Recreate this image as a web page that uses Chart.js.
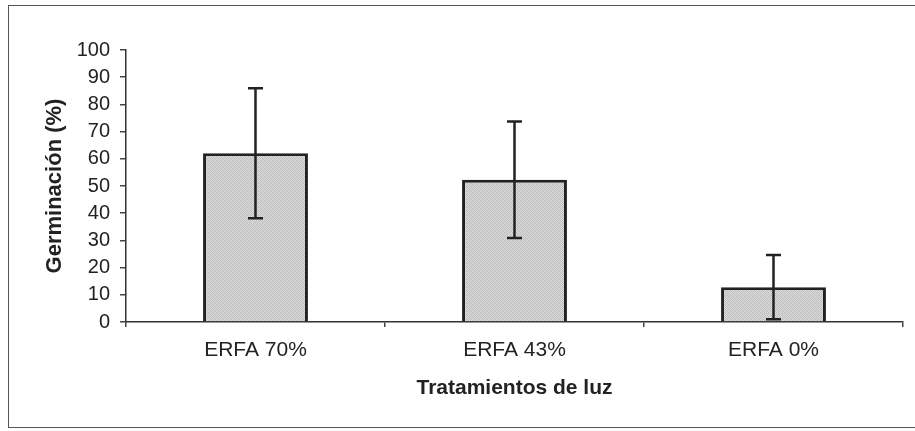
<!DOCTYPE html>
<html>
<head>
<meta charset="utf-8">
<script src="https://cdn.jsdelivr.net/npm/chart.js@4"></script>
<style>
  html, body { margin: 0; padding: 0; background: #fff; overflow: hidden; width: 915px; height: 431px; }
  #frame { position: absolute; left: 8px; top: 5px; width: 940px; height: 423px; border: 1.5px solid #555; box-sizing: border-box; }
  #wrap { position: absolute; left: 0; top: 0; width: 915px; height: 431px; }
</style>
</head>
<body>
<div id="frame"></div>
<div id="wrap"><canvas id="c"></canvas></div>
<script>
// Light treatments and mean germination (%) with error (±)
const categories = ['ERFA 70%', 'ERFA 43%', 'ERFA 0%'];
const germination = [62, 52.3, 12.8];
const germinationError = [23.9, 21.4, 11.8];
const yMin = 0;
const yMax = 100;
const yStep = 10;

const FONT = "'Liberation Sans', Arial, Helvetica, sans-serif";
const INK = '#222';

// fine halftone-like grey fill for the bars
function halftone() {
  const p = document.createElement('canvas');
  p.width = 4; p.height = 4;
  const g = p.getContext('2d');
  const shades = [
    ['#bcbcbc', '#d9d9d9', '#c4c4c4', '#dddddd'],
    ['#d6d6d6', '#c1c1c1', '#dadada', '#c3c3c3'],
    ['#c6c6c6', '#dbdbdb', '#bbbbbb', '#d7d7d7'],
    ['#dcdcdc', '#c2c2c2', '#d6d6d6', '#bfbfbf']
  ];
  for (let r = 0; r < 4; r++) for (let c = 0; c < 4; c++) {
    g.fillStyle = shades[r][c];
    g.fillRect(c, r, 1, 1);
  }
  return g.createPattern(p, 'repeat');
}

// whiskers drawn from the error array through the chart's own scales
const errorBars = {
  id: 'errorBars',
  afterDatasetsDraw(chart) {
    const { ctx, scales: { y } } = chart;
    const meta = chart.getDatasetMeta(0);
    ctx.save();
    ctx.strokeStyle = INK;
    ctx.lineWidth = 2.5;
    meta.data.forEach((bar, i) => {
      const v = germination[i], e = germinationError[i];
      const top = y.getPixelForValue(v + e);
      const bot = y.getPixelForValue(v - e);
      const x = bar.x, cap = 7.5;
      ctx.beginPath();
      ctx.moveTo(x, top); ctx.lineTo(x, bot);
      ctx.moveTo(x - cap, top); ctx.lineTo(x + cap, top);
      ctx.moveTo(x - cap, bot); ctx.lineTo(x + cap, bot);
      ctx.stroke();
    });
    ctx.restore();
  }
};

new Chart(document.getElementById('c'), {
  type: 'bar',
  data: {
    labels: categories,
    datasets: [{
      data: germination,
      backgroundColor: halftone(),
      borderColor: INK,
      borderWidth: 3,
      barPercentage: 0.405,
      categoryPercentage: 1
    }]
  },
  options: {
    responsive: true,
    maintainAspectRatio: false,
    animation: false,
    events: [],
    layout: { padding: { left: 0, top: 50, right: 12, bottom: 0 } },
    plugins: { legend: { display: false }, tooltip: { enabled: false } },
    scales: {
      x: {
        offset: true,
        grid: { offset: true, drawOnChartArea: false, drawTicks: true, tickLength: 5, color: '#444', lineWidth: 1.5 },
        border: { color: '#333', width: 1.5 },
        ticks: { color: INK, font: { family: FONT, size: 21 }, padding: 11, maxRotation: 0 },
        title: { display: true, text: 'Tratamientos de luz', color: INK, font: { family: FONT, size: 21, weight: 'bold' }, padding: { top: 0, bottom: 30 } },
        afterFit(scale) { scale.height = 109; }
      },
      y: {
        min: yMin, max: yMax,
        grid: { drawOnChartArea: false, drawTicks: true, tickLength: 6, color: '#444', lineWidth: 1.5 },
        border: { color: '#333', width: 1.5 },
        ticks: { stepSize: yStep, color: INK, font: { family: FONT, size: 20 }, padding: 10 },
        title: { display: true, text: 'Germinación (%)', color: INK, font: { family: FONT, size: 22, weight: 'bold' }, padding: { top: 42, bottom: 0 } },
        afterFit(scale) { scale.width = 126; }
      }
    }
  },
  plugins: [errorBars]
});
</script>
</body>
</html>
